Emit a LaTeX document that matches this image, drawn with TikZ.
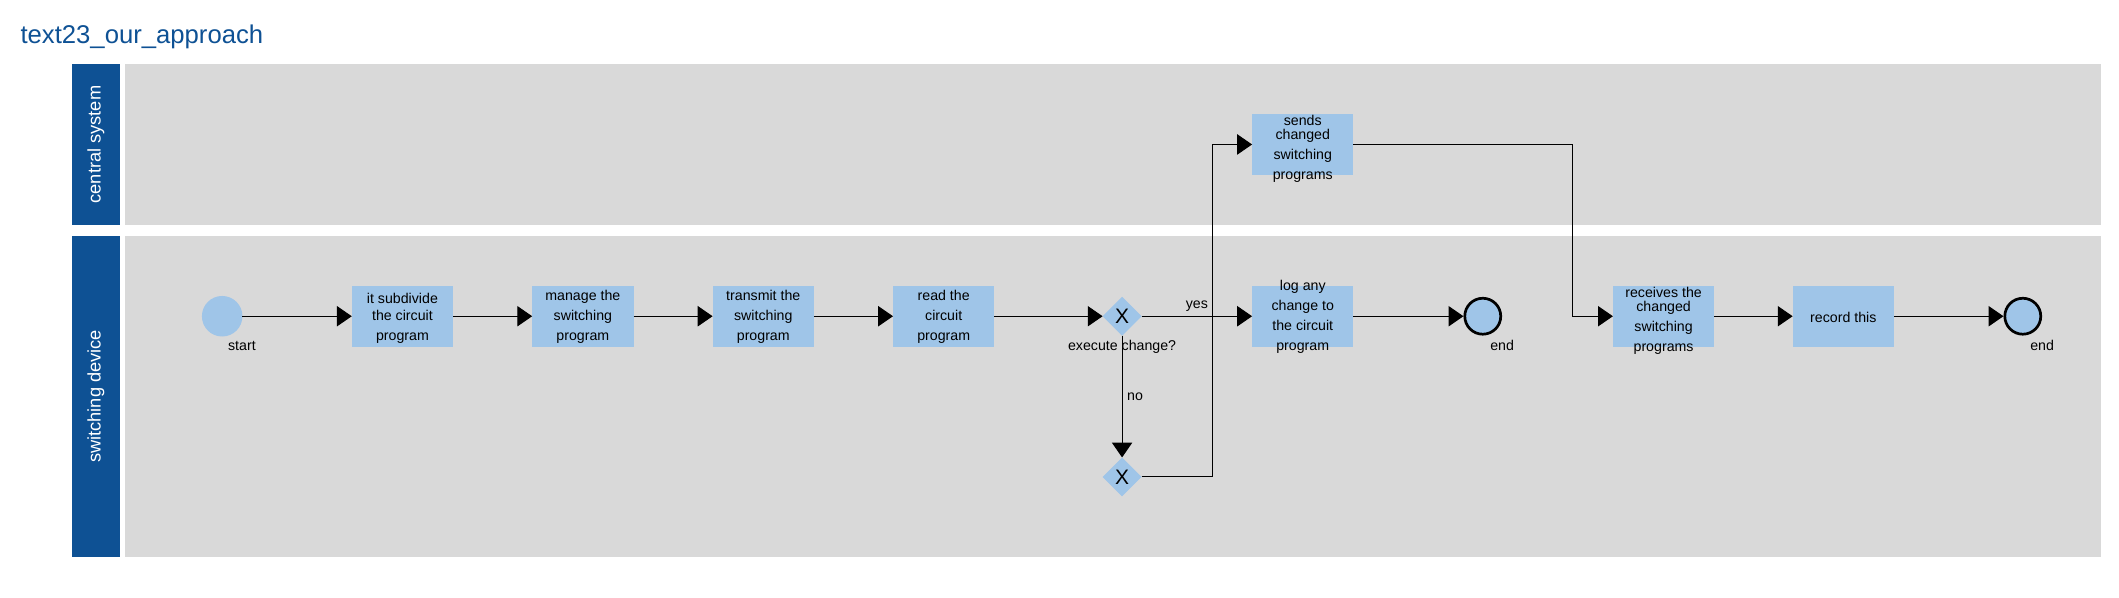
\documentclass[tikz,border=0pt]{standalone}
\usepackage{fontspec}
\setmainfont{Liberation Sans}
\usetikzlibrary{positioning, shapes.geometric, arrows.meta}
\definecolor{laneblue}{RGB}{14,81,148}
\definecolor{lanegray}{RGB}{217,217,217}
\definecolor{taskblue}{RGB}{159,197,232}
\tikzset{task node/.style={rectangle,fill=taskblue,minimum width=75pt,minimum height=45pt,inner sep=0pt,outer sep=0pt}}
\tikzset{task text/.style={align=center,font=\fontsize{10.5}{14.8}\selectfont,inner sep=0pt,yshift=-0.8pt}}
\tikzset{start node/.style={circle,fill=taskblue,minimum size=30pt,inner sep=0pt,outer sep=0pt}}
\tikzset{end node/.style={circle,fill=taskblue,draw,line width=2pt,minimum size=26.6pt,inner sep=0pt}}
\tikzset{gate node/.style={diamond,fill=taskblue,minimum width=28.8pt,minimum height=28.8pt,inner sep=0pt,outer sep=0pt,font=\fontsize{15.5}{15.5}\selectfont}}
\tikzset{small label/.style={font=\fontsize{10.5}{12}\selectfont}}
\tikzset{lane label/.style={rotate=90,text=white,font=\fontsize{13.5}{15}\selectfont}}
\tikzset{flow/.style={draw,line width=0.8pt,-{Triangle[length=11pt,width=15pt]}}}

\begin{document}
\begin{tikzpicture}[x=1pt,y=1pt]
            \useasboundingbox (0,0) rectangle (1568,-442);
            % lanes
            \fill[lanegray] (92.5,-47.4) rectangle (1555,-166.3);
            \fill[lanegray] (92.5,-174.6) rectangle (1555,-412);
            \fill[laneblue] (53.2,-47.4) rectangle (88.5,-166.3);
            \fill[laneblue] (53.2,-174.6) rectangle (88.5,-412);
            \node[lane label] (cs label) at (70.9,-106.9) {central system};
            \node[lane label] (sd label) at (70.9,-293.3) {switching device};
            \node[anchor=base west,inner sep=0pt,text=laneblue,font=\fontsize{19}{22}\selectfont] (title) at (15,-32) {text23\_our\_approach};

            \node[start node, label={[small label,xshift=14.6pt]below:start}] (start) at (164.4,-234) {};
            \node[task node, label={[task text,yshift=-0.8pt]center:it subdivide\\[-2.5pt]the circuit\\program}] (sub) [right = 80.9pt of start] {};
            \node[task node, label={[task text]center:manage the\\switching\\program}] (manage) [right = 58.5pt of sub] {};
            \node[task node, label={[task text]center:transmit the\\switching\\program}] (transmit) [right = 58.5pt of manage] {};
            \node[task node, label={[task text]center:read the\\circuit\\program}] (read) [right = 58.5pt of transmit] {};
            \node[gate node, label={[small label]below:execute change?}] (gw1) [right = 80.1pt of read] {X};
            \node[gate node] (gw2) [below = 90.1pt of gw1] {X};
            \node[task node, label={[task text]center:log any\\change to\\the circuit\\program}] (log) [right = 81.8pt of gw1] {};
            \node[task node, label={[task text,yshift=-2.6pt]center:sends\\[-4.4pt]changed\\switching\\programs}] (sends) [above = 82.1pt of log] {};
            \node[end node, label={[small label,xshift=14.3pt]below:end}] (end1) [right = 81.4pt of log] {};
            \node[task node, label={[task text,yshift=-2.6pt]center:receives the\\[-4.4pt]changed\\switching\\programs}] (receives) [right = 82pt of end1] {};
            \node[task node, label={[task text]center:record this}] (record) [right = 58pt of receives] {};
            \node[end node, label={[small label,xshift=14.3pt]below:end}] (end2) [right = 81pt of record] {};

            \path[flow]
            (start) edge (sub)
            (sub) edge (manage)
            (manage) edge (transmit)
            (transmit) edge (read)
            (read) edge (gw1)
            (gw1) edge node[small label, above] {yes} (log)
            (gw1) edge node[small label, right] {no} (gw2)
            (log) edge (end1)
            (receives) edge (record)
            (record) edge (end2);
            \draw[flow] (gw2.east) -| ([xshift=-29.4pt]sends.west) -- (sends.west);
            \draw[flow] (sends.east) -| ([xshift=-29.6pt]receives.west) -- (receives.west);
        \end{tikzpicture}
\end{document}
